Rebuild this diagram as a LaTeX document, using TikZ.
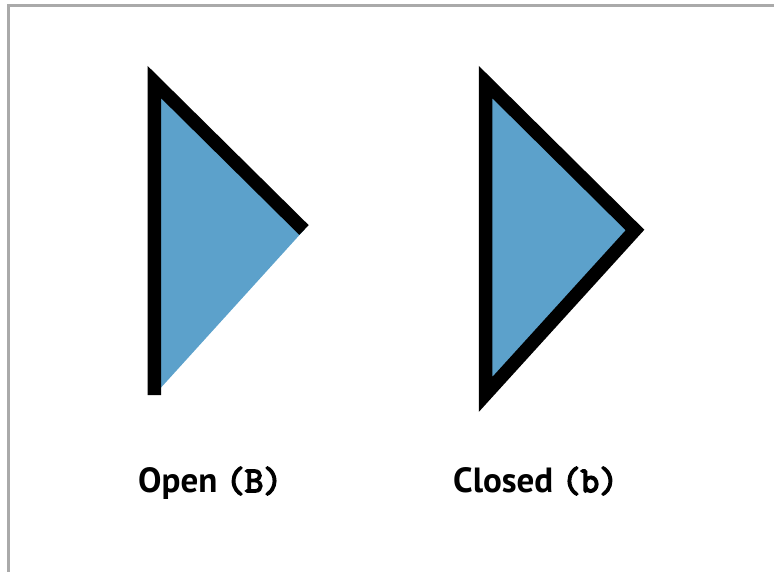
\documentclass[tikz,border=0pt]{standalone}
\usepackage{fontspec}
\setmainfont{PT Sans}
\newfontfamily\cmono[FakeBold=4.5]{Latin Modern Mono}
\definecolor{fillblue}{RGB}{92,161,203}
\definecolor{framegray}{RGB}{170,170,170}
\begin{document}
\begin{tikzpicture}[x=1pt,y=-1pt,
  tri/.style={fill=fillblue,draw=black,line width=13.5pt,line join=miter},
  lab/.style={anchor=base west,inner sep=0pt,font=\fontsize{35}{40}\selectfont\bfseries}]
\useasboundingbox (0,0) rectangle (774,571);
\draw[framegray,line width=2.6pt] (8.7,5.5) rectangle (800,600);
% open triangle
\filldraw[tri] (154.3,395) -- (154.3,82) -- (304,230);
% closed triangle
\filldraw[tri] (485.5,394.5) -- (485.5,82) -- (635,230) -- cycle;
\node[lab] (openlab) at (138,492) {Open {\cmono\fontsize{36}{40}\selectfont(B)}};
\node[lab] (closedlab) at (453,492) {Closed {\cmono\fontsize{36}{40}\selectfont(b)}};
\end{tikzpicture}
\end{document}
